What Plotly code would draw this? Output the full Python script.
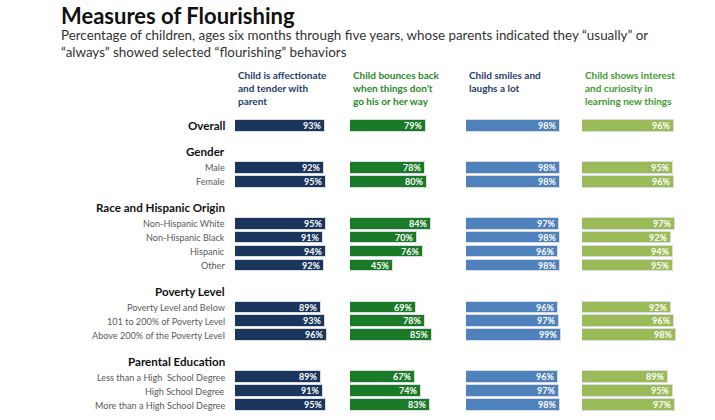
import plotly.graph_objects as go

# ---------------- data ----------------
column_titles = [
    "Child is affectionate<br>and tender with<br>parent",
    "Child bounces back<br>when things don’t<br>go his or her way",
    "Child smiles and<br>laughs a lot",
    "Child shows interest<br>and curiosity in<br>learning new things",
]

groups = ["Overall", "Gender", "Race and Hispanic Origin", "Poverty Level", "Parental Education"]
gender = ["Male", "Female"]
race = ["Non-Hispanic White", "Non-Hispanic Black", "Hispanic", "Other"]
poverty = ["Poverty Level and Below", "101 to 200% of Poverty Level", "Above 200% of the Poverty Level"]
education = ["Less than a High  School Degree", "High School Degree", "More than a High School Degree"]

# order: Overall, Male, Female, NHW, NHB, Hisp, Other, Pov1..3, Edu1..3
affectionate = [93, 92, 95, 95, 91, 94, 92, 89, 93, 96, 89, 91, 95]
bounces_back = [79, 78, 80, 84, 70, 76, 45, 69, 78, 85, 67, 74, 83]
smiles = [98, 98, 98, 97, 98, 96, 98, 96, 97, 99, 96, 97, 98]
curiosity = [96, 95, 96, 97, 92, 94, 95, 92, 96, 98, 89, 95, 97]

series = [affectionate, bounces_back, smiles, curiosity]
bar_colors = ["#1b365d", "#1b7a28", "#4f81bd", "#9bbb59"]
title_colors = ["#1f3d6b", "#2a8a2a", "#1f3d6b", "#3f9a2f"]

# ---------------- layout helpers ----------------
W, H = 715, 420
row_px = 13.93
first_row = 126
top_px = first_row - 0.5 * row_px
bottom_px = H - (first_row + 20.5 * row_px)
plot_h = H - top_px - bottom_px

# compute row positions
positions = [0.0]
header_pos = [0.0]
last = 0.0
for sub in [gender, race, poverty, education]:
    header_pos.append(last + 1.85)
    first = last + 3
    for i in range(len(sub)):
        positions.append(first + i)
    last = first + len(sub) - 1

labels = ["Overall"] + gender + race + poverty + education

def px_x(p):
    return p / W

def px_y(p):
    return 1 - (p - top_px) / plot_h

panel_start_px = [235, 350, 466, 582]
full_px = 96.3

fig = go.Figure()
for k, vals in enumerate(series):
    ax = "x" if k == 0 else f"x{k+1}"
    fig.add_trace(go.Bar(
        x=vals, y=positions, orientation="h", xaxis=ax, yaxis="y",
        width=0.84,
        marker=dict(color=bar_colors[k], line=dict(color="#d9dde3", width=1)),
        text=[f"{v}%" for v in vals], textposition="inside", insidetextanchor="end",
        textangle=0, constraintext="none",
        textfont=dict(family="Lato", size=9, color="white", weight="bold"),
        showlegend=False, hoverinfo="skip", cliponaxis=False,
    ))
    xa = dict(range=[0, 100], domain=[px_x(panel_start_px[k]), px_x(panel_start_px[k] + full_px)],
              anchor="y", visible=False, fixedrange=True)
    fig.layout["xaxis" if k == 0 else f"xaxis{k+1}"] = xa

ann = []
# title & subtitle
ann.append(dict(text="<b>Measures of Flourishing</b>", xref="paper", yref="paper", x=px_x(59), y=px_y(15.5),
                xanchor="left", yanchor="middle", showarrow=False,
                font=dict(family="Lato", size=22, color="#111111")))
ann.append(dict(text="Percentage of children, ages six months through five years, whose parents indicated they “usually” or<br>“always” showed selected “flourishing” behaviors",
                xref="paper", yref="paper", x=px_x(59), y=px_y(44), xanchor="left", yanchor="middle",
                align="left", showarrow=False,
                font=dict(family="Lato", size=13.4, color="#333333")))
# column titles
for k, t in enumerate(column_titles):
    ann.append(dict(text=f"<b>{t}</b>", xref="paper", yref="paper", x=px_x(panel_start_px[k] + 1),
                    y=px_y(67.5), xanchor="left", yanchor="top", align="left", showarrow=False,
                    font=dict(family="Lato", size=10, color=title_colors[k])))
# group headers
for g, p in zip(groups, header_pos):
    ann.append(dict(text=f"<b>{g}</b>", xref="paper", yref="y", x=px_x(227), y=p,
                    xanchor="right", yanchor="middle", showarrow=False,
                    font=dict(family="Lato", size=11.6, color="#111111")))
# row labels
for lab, p in zip(labels[1:], positions[1:]):
    ann.append(dict(text=lab, xref="paper", yref="y", x=px_x(227), y=p,
                    xanchor="right", yanchor="middle", showarrow=False,
                    font=dict(family="Lato", size=9.1, color="#595959")))

fig.update_layout(
    width=W, height=H,
    margin=dict(l=0, r=0, t=top_px, b=bottom_px, pad=0),
    paper_bgcolor="white", plot_bgcolor="white",
    yaxis=dict(range=[20.5, -0.5], visible=False, fixedrange=True),
    bargap=0, annotations=ann,
)

fig.write_html("out.html", config={"displayModeBar": False},
               post_script="document.body.style.margin='0';")
